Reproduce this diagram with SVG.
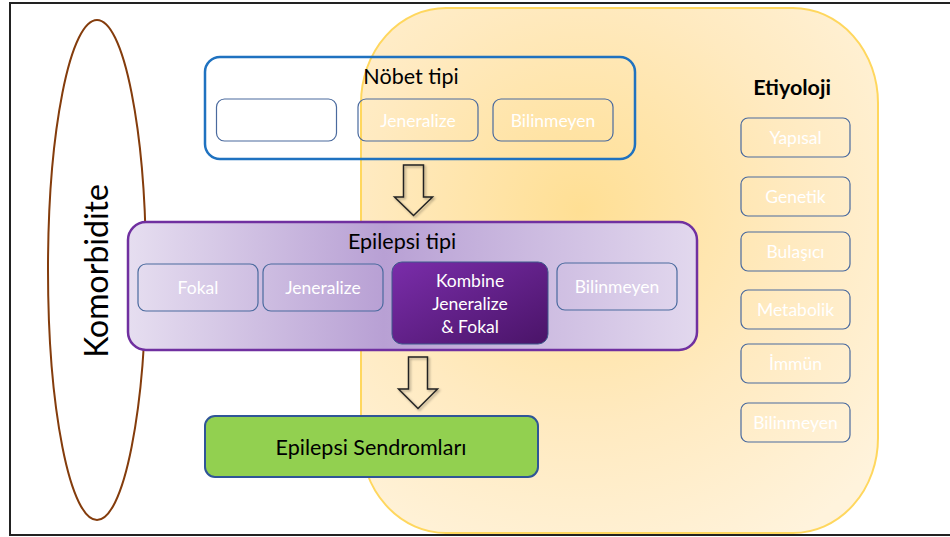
<svg xmlns="http://www.w3.org/2000/svg" width="950" height="537" viewBox="0 0 950 537">
<defs>
<radialGradient id="gYellow" cx="580" cy="210" r="390" gradientUnits="userSpaceOnUse">
<stop offset="0" stop-color="#FFDF94"/>
<stop offset="0.55" stop-color="#FFEAC0"/>
<stop offset="1" stop-color="#FFF3DC"/>
</radialGradient>
<linearGradient id="gPurple" x1="128" y1="0" x2="697" y2="0" gradientUnits="userSpaceOnUse">
<stop offset="0" stop-color="#E6DEF0"/>
<stop offset="0.45" stop-color="#B8A0D4"/>
<stop offset="1" stop-color="#E2D8EE"/>
</linearGradient>
<linearGradient id="gKomb" x1="0" y1="0" x2="1" y2="1">
<stop offset="0" stop-color="#7A2DAA"/>
<stop offset="1" stop-color="#4A1468"/>
</linearGradient>
<filter id="sh" x="-20%" y="-20%" width="150%" height="150%">
<feDropShadow dx="1.5" dy="1.5" stdDeviation="1" flood-color="#000" flood-opacity="0.35"/>
</filter>
</defs>
<style>
.t{font-family:Lato,"Liberation Sans",sans-serif;text-anchor:middle}
.w{fill:#FFFFFF;font-size:17.5px}
.h{fill:#000000;font-size:21.5px}
.sub{fill:none;stroke:#4A6A9E;stroke-width:1.2}
.arrow{fill:none;stroke:#222;stroke-width:1.5;stroke-linejoin:miter}
</style>
<rect x="0" y="0" width="950" height="537" fill="#FFFFFF"/>
<rect x="10" y="3" width="945" height="532" fill="none" stroke="#222" stroke-width="2"/>

<g id="etiyoloji">
<rect x="361" y="8" width="517" height="525" rx="85" ry="95" fill="url(#gYellow)" stroke="#FFD75E" stroke-width="2"/>
<text class="t h" x="792" y="95" font-weight="bold">Etiyoloji</text>
<g id="yapisal"><rect class="sub" x="741" y="118" width="109" height="39" rx="7"/><text class="t w" x="795.5" y="144">Yapısal</text></g>
<g id="genetik"><rect class="sub" x="741" y="177" width="109" height="39" rx="7"/><text class="t w" x="795.5" y="203">Genetik</text></g>
<g id="bulasici"><rect class="sub" x="741" y="232" width="109" height="39" rx="7"/><text class="t w" x="795.5" y="258">Bulaşıcı</text></g>
<g id="metabolik"><rect class="sub" x="741" y="290" width="109" height="39" rx="7"/><text class="t w" x="795.5" y="316">Metabolik</text></g>
<g id="immun"><rect class="sub" x="741" y="344" width="109" height="39" rx="7"/><text class="t w" x="795.5" y="370">İmmün</text></g>
<g id="bilinmeyen-e"><rect class="sub" x="741" y="403" width="109" height="39" rx="7"/><text class="t w" x="795.5" y="429">Bilinmeyen</text></g>
</g>

<g id="komorbidite">
<ellipse cx="97" cy="270" rx="49" ry="250" fill="none" stroke="#843C0C" stroke-width="2"/>
<text class="t" x="0" y="0" transform="translate(108 271) rotate(-90)" font-size="32" fill="#000">Komorbidite</text>
</g>

<g id="nobet-tipi">
<rect x="205" y="57" width="430" height="102" rx="15" fill="none" stroke="#1F72C0" stroke-width="2.5"/>
<text class="t h" x="411" y="84">Nöbet tipi</text>
<g id="nobet-1"><rect class="sub" x="216.5" y="99" width="120" height="42" rx="8" fill="#FFFFFF"/></g>
<g id="nobet-jeneralize"><rect class="sub" x="358" y="99" width="120" height="42" rx="8"/><text class="t w" x="418" y="127">Jeneralize</text></g>
<g id="nobet-bilinmeyen"><rect class="sub" x="493" y="99" width="120" height="42" rx="8"/><text class="t w" x="553" y="127">Bilinmeyen</text></g>
</g>

<g id="epilepsi-tipi">
<rect x="128" y="222" width="569" height="128" rx="18" fill="url(#gPurple)" stroke="#7030A0" stroke-width="2.5"/>
<text class="t h" x="402" y="249">Epilepsi tipi</text>
<g id="fokal"><rect class="sub" x="138" y="264" width="120" height="47" rx="8"/><text class="t w" x="198" y="294">Fokal</text></g>
<g id="jeneralize"><rect class="sub" x="263" y="264" width="120" height="47" rx="8"/><text class="t w" x="323" y="294">Jeneralize</text></g>
<g id="kombine"><rect x="392" y="262" width="156" height="82" rx="10" fill="url(#gKomb)" stroke="#3E5A8C" stroke-width="1"/>
<text class="t w" x="470" y="287">Kombine</text><text class="t w" x="470" y="310">Jeneralize</text><text class="t w" x="470" y="333">&amp; Fokal</text></g>
<g id="bilinmeyen"><rect class="sub" x="557" y="263" width="120" height="47" rx="8"/><text class="t w" x="617" y="293">Bilinmeyen</text></g>
</g>

<g id="sendromlar">
<rect x="205" y="416" width="333" height="61" rx="10" fill="#92D050" stroke="#2F5597" stroke-width="2"/>
<text class="t h" x="371" y="455">Epilepsi Sendromları</text>
</g>

<g id="connectors">
<path class="arrow" filter="url(#sh)" d="M403.5 165 H423.5 V197 H432.5 L413.5 215.5 L394.5 197 H403.5 Z"/>
<path class="arrow" filter="url(#sh)" d="M408.5 357 H427.5 V389 H437.5 L418 408.5 L398.5 389 H408.5 Z"/>
</g>
</svg>
